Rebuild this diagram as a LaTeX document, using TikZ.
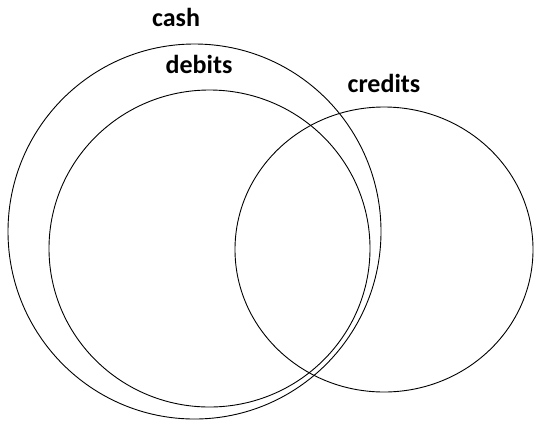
\documentclass[tikz,border=0pt]{standalone}
\usepackage{fontspec}
\setmainfont{Carlito}
\usetikzlibrary{shapes.geometric}
\begin{document}
\begin{tikzpicture}[x=1pt, y=-1pt, set/.style={draw, ellipse, line width=0.9pt, inner sep=0pt}, lbl/.style={font=\fontsize{26}{30}\selectfont\bfseries, anchor=base, inner sep=0pt}]
            \useasboundingbox (0,0) rectangle (534,421);
            \node[set, minimum width=373pt, minimum height=375pt] (cash) at (194.5,231.5) {};
            \node[set, minimum width=321pt, minimum height=317pt] (debits) at (209.5,248.5) {};
            \node[set, minimum width=298pt, minimum height=285pt] (credits) at (384,249.5) {};
            \node[lbl] (cashlbl) at (176,26) {cash};
            \node[lbl] (debitslbl) at (199,73) {debits};
            \node[lbl] (creditslbl) at (384,92) {credits};
        \end{tikzpicture}
\end{document}
